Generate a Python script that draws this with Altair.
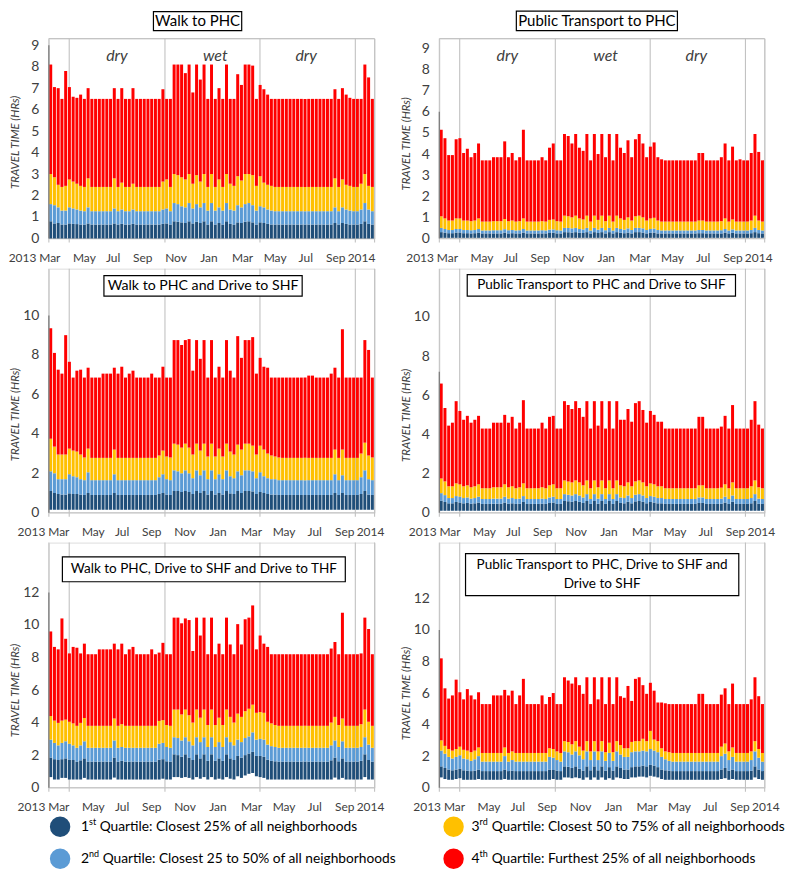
import altair as alt
import pandas as pd

FONT = "Lato"
N_BARS = 87
X_MAX = 87.1
QUARTILES = ["Q1", "Q2", "Q3", "Q4"]
QUARTILE_COLORS = ["#1f4e79", "#5b9bd5", "#ffc000", "#ff0000"]
Y_TITLE = "TRAVEL TIME (HRs)"

SEASON_BOUNDS = [0, 5.45, 31.05, 56.45, 81.95, X_MAX]
SEASON_NAMES = ["dry", "wet", "dry"]
SEASON_POS = [18.2, 44.5, 68.8]

MONTH_LABELS = ["2013", "Mar", "May", "Jul", "Sep", "Nov", "Jan", "Mar", "May", "Jul", "Sep", "2014"]
MONTH_POS = [-7.05, 0.27, 9.5, 17.2, 25.1, 34.0, 42.8, 51.8, 60.5, 68.7, 76.7, 83.6]

LEGEND_NUM = ["1", "2", "3", "4"]
LEGEND_SUP = ["st", "nd", "rd", "th"]
LEGEND_TEXT = ["Quartile: Closest 25% of all neighborhoods",
               "Quartile: Closest 25 to 50% of all neighborhoods",
               "Quartile: Closest 50 to 75% of all neighborhoods",
               "Quartile: Furthest 25% of all neighborhoods"]

# ---------- Panel 1: Walk to PHC ----------
p1_q4 = ([8.1, 7.05, 7.0, 6.5, 7.8, 7.05, 6.6, 6.55, 6.7, 6.5]
         + [7.0, 6.5, 6.5, 6.5, 6.5, 6.5, 6.5, 7.0, 6.5, 7.0]
         + [6.5, 6.5, 7.0, 6.5, 6.5, 6.5, 6.5, 6.5, 6.5, 6.5]
         + [6.95, 6.5, 6.5, 8.1, 8.1, 8.1, 7.7, 8.1, 6.8, 8.1]
         + [7.4, 8.1, 6.5, 8.1, 6.5, 7.0, 6.5, 8.1, 6.5, 6.5]
         + [7.65, 7.15, 8.1, 8.1, 8.05, 6.5, 7.15, 6.95, 6.7, 6.5]
         + [6.5] * 16
         + [6.95, 6.5, 7.0, 6.7, 6.55, 6.5, 6.5, 6.5, 8.1, 7.5, 6.5])
p1_q3 = ([3.0, 2.85, 2.5, 2.4, 2.45, 2.75, 2.65, 2.55, 2.45, 2.4]
         + [2.8, 2.4, 2.4, 2.4, 2.4, 2.4, 2.4, 2.8, 2.4, 2.6]
         + [2.4, 2.4, 2.55, 2.4, 2.4, 2.4, 2.4, 2.4, 2.4, 2.4]
         + [2.65, 2.75, 2.4, 3.0, 2.95, 2.85, 2.75, 3.0, 2.55, 2.95]
         + [2.65, 3.0, 2.4, 3.0, 2.4, 2.75, 2.4, 3.0, 2.55, 2.45]
         + [2.9, 2.7, 3.0, 3.0, 2.95, 2.45, 2.9, 2.6, 2.5, 2.45]
         + [2.4] * 16
         + [2.8, 2.4, 2.75, 2.5, 2.45, 2.4, 2.4, 2.55, 3.0, 2.45, 2.4])
p1_q2 = ([1.6, 1.55, 1.45, 1.3, 1.3, 1.45, 1.4, 1.35, 1.3, 1.27]
         + [1.45, 1.27, 1.27, 1.27, 1.27, 1.27, 1.27, 1.4, 1.27, 1.35]
         + [1.27, 1.27, 1.35, 1.27, 1.27, 1.27, 1.27, 1.27, 1.27, 1.27]
         + [1.35, 1.4, 1.27, 1.65, 1.6, 1.5, 1.45, 1.65, 1.4, 1.6]
         + [1.45, 1.65, 1.3, 1.65, 1.3, 1.45, 1.3, 1.65, 1.35, 1.3]
         + [1.55, 1.45, 1.6, 1.65, 1.55, 1.3, 1.5, 1.45, 1.35, 1.3]
         + [1.27] * 16
         + [1.45, 1.27, 1.45, 1.35, 1.3, 1.27, 1.27, 1.35, 1.65, 1.35, 1.27])
p1_q1 = ([0.8, 0.7, 0.72, 0.65, 0.65, 0.7, 0.68, 0.67, 0.65, 0.65]
         + [0.7, 0.65, 0.65, 0.65, 0.65, 0.65, 0.65, 0.7, 0.65, 0.68]
         + [0.65, 0.65, 0.68, 0.65, 0.65, 0.65, 0.65, 0.65, 0.65, 0.65]
         + [0.68, 0.7, 0.65, 0.8, 0.78, 0.75, 0.72, 0.8, 0.7, 0.78]
         + [0.72, 0.8, 0.65, 0.8, 0.65, 0.72, 0.65, 0.8, 0.68, 0.65]
         + [0.75, 0.72, 0.78, 0.8, 0.75, 0.65, 0.75, 0.72, 0.68, 0.65]
         + [0.65] * 16
         + [0.72, 0.65, 0.72, 0.68, 0.65, 0.65, 0.65, 0.68, 0.8, 0.68, 0.65])
p1_q0 = [0.0] * 87

# ---------- Panel 2: Public Transport to PHC ----------
p2_q4 = ([5.15, 4.75, 3.95, 3.95, 4.7, 4.75, 4.05, 4.25, 3.85, 4.05]
         + [4.5, 3.7, 3.7, 3.7, 3.85, 3.85, 3.85, 4.6, 3.85, 4.05]
         + [3.7, 3.85, 5.15, 3.7, 3.7, 3.7, 3.7, 3.85, 3.7, 4.3]
         + [4.5, 3.7, 3.7, 4.95, 4.85, 4.5, 4.95, 4.3, 4.15, 4.95]
         + [3.7, 4.95, 4.0, 4.95, 3.85, 4.95, 3.7, 4.95, 4.3, 4.05]
         + [4.65, 3.85, 4.7, 4.95, 4.5, 3.85, 4.35, 4.55, 3.85, 3.75]
         + [3.7] * 9 + [4.05, 4.05] + [3.7] * 4
         + [3.85, 4.5, 3.7, 4.35, 3.7, 3.75, 3.7, 3.7, 4.05, 4.95, 4.1, 3.7])
p2_q3 = ([1.05, 0.95, 0.85, 0.85, 0.95, 0.95, 0.85, 0.85, 0.82, 0.85]
         + [0.95, 0.8, 0.8, 0.8, 0.82, 0.82, 0.82, 0.92, 0.82, 0.85]
         + [0.8, 0.82, 0.95, 0.8, 0.8, 0.8, 0.8, 0.82, 0.8, 0.88]
         + [0.9, 0.82, 0.8, 1.08, 1.05, 1.0, 1.08, 0.95, 0.9, 1.08]
         + [0.8, 1.08, 0.88, 1.08, 0.82, 1.08, 0.8, 1.08, 0.95, 0.88]
         + [1.0, 0.85, 1.05, 1.08, 1.0, 0.85, 0.95, 0.98, 0.85, 0.8]
         + [0.8] * 9 + [0.85, 0.85] + [0.8] * 4
         + [0.82, 0.95, 0.8, 0.9, 0.8, 0.8, 0.8, 0.8, 0.85, 1.08, 0.85, 0.8])
p2_q2 = ([0.5, 0.45, 0.4, 0.4, 0.45, 0.45, 0.4, 0.4, 0.39, 0.4]
         + [0.45, 0.38, 0.38, 0.38, 0.39, 0.39, 0.39, 0.44, 0.39, 0.4]
         + [0.38, 0.39, 0.45, 0.38, 0.38, 0.38, 0.38, 0.39, 0.38, 0.42]
         + [0.43, 0.39, 0.38, 0.5, 0.5, 0.48, 0.5, 0.45, 0.43, 0.5]
         + [0.38, 0.5, 0.42, 0.5, 0.39, 0.5, 0.38, 0.5, 0.45, 0.42]
         + [0.48, 0.4, 0.5, 0.5, 0.48, 0.4, 0.45, 0.47, 0.4, 0.38]
         + [0.38] * 9 + [0.4, 0.4] + [0.38] * 4
         + [0.39, 0.45, 0.38, 0.43, 0.38, 0.38, 0.38, 0.38, 0.4, 0.5, 0.4, 0.38])
p2_q1 = ([0.3, 0.28, 0.25, 0.25, 0.28, 0.28, 0.25, 0.25, 0.24, 0.25]
         + [0.28, 0.24, 0.24, 0.24, 0.24, 0.24, 0.24, 0.28, 0.24, 0.25]
         + [0.24, 0.24, 0.28, 0.24, 0.24, 0.24, 0.24, 0.24, 0.24, 0.26]
         + [0.27, 0.24, 0.24, 0.3, 0.3, 0.28, 0.3, 0.27, 0.26, 0.3]
         + [0.24, 0.3, 0.26, 0.3, 0.24, 0.3, 0.24, 0.3, 0.27, 0.25]
         + [0.28, 0.24, 0.3, 0.3, 0.28, 0.24, 0.27, 0.28, 0.24, 0.24]
         + [0.24] * 9 + [0.25, 0.25] + [0.24] * 4
         + [0.24, 0.28, 0.24, 0.27, 0.24, 0.24, 0.24, 0.24, 0.25, 0.3, 0.25, 0.24])
p2_q0 = [0.03] * 87

# ---------- Panel 3: Walk to PHC and Drive to SHF ----------
p3_q4 = ([9.35, 8.1, 7.25, 7.05, 9.0, 7.65, 6.85, 7.2, 7.25, 6.85]
         + [7.35, 6.85, 6.85, 6.85, 7.05, 7.05, 7.05, 7.35, 7.05, 7.4]
         + [6.85, 7.05, 7.2, 6.85, 6.85, 6.85, 6.85, 7.05, 6.85, 6.85]
         + [7.4, 6.85, 6.85, 8.75, 8.75, 8.5, 8.75, 8.8, 7.2, 8.75]
         + [7.8, 8.75, 6.85, 8.75, 6.85, 7.4, 6.85, 8.75, 7.2, 6.85]
         + [8.95, 7.85, 8.75, 8.75, 8.9, 7.05, 7.85, 7.4, 7.35, 6.85]
         + [6.85] * 9 + [6.95, 6.95] + [6.85] * 4
         + [7.05, 7.35, 6.85, 9.3, 6.85, 6.85, 6.85, 6.85, 6.85, 8.75, 8.25, 6.85])
p3_q3 = ([3.75, 3.35, 2.95, 2.95, 2.95, 3.25, 3.15, 3.1, 2.95, 2.8]
         + [3.25, 2.78, 2.78, 2.78, 2.78, 2.78, 2.78, 3.2, 2.78, 2.78]
         + [2.78] * 9 + [2.9]
         + [3.15, 2.85, 2.8, 3.5, 3.45, 3.3, 3.5, 3.3, 2.95, 3.5]
         + [3.15, 3.5, 2.85, 3.5, 2.85, 3.25, 2.85, 3.5, 3.1, 2.95]
         + [3.45, 3.2, 3.5, 3.5, 3.4, 2.95, 3.4, 3.2, 3.0, 2.9]
         + [2.85, 2.8] + [2.78] * 13
         + [2.78, 3.2, 2.78, 3.2, 2.78, 2.78, 2.78, 2.78, 3.0, 3.55, 2.9, 2.8])
p3_q2 = ([2.1, 2.0, 1.7, 1.7, 1.7, 1.95, 1.85, 1.8, 1.7, 1.65]
         + [2.05, 1.65, 1.65, 1.65, 1.65, 1.65, 1.65, 1.95, 1.65, 1.65]
         + [1.65] * 9 + [1.8]
         + [1.95, 1.7, 1.65, 2.15, 2.1, 2.0, 2.15, 2.0, 1.75, 2.15]
         + [1.9, 2.15, 1.7, 2.15, 1.7, 1.95, 1.7, 2.15, 1.85, 1.75]
         + [2.1, 1.9, 2.15, 2.15, 2.1, 1.75, 2.05, 1.85, 1.75, 1.7]
         + [1.7] + [1.65] * 14
         + [1.65, 1.95, 1.65, 1.9, 1.65, 1.65, 1.65, 1.65, 1.8, 2.15, 1.7, 1.65])
p3_q1 = ([1.1, 1.0, 0.95, 0.92, 0.92, 0.98, 0.95, 0.95, 0.92, 0.9]
         + [1.0, 0.9, 0.9, 0.9, 0.9, 0.9, 0.9, 1.0, 0.9, 0.9]
         + [0.9] * 9 + [0.95]
         + [1.0, 0.92, 0.9, 1.1, 1.1, 1.05, 1.1, 1.05, 0.95, 1.1]
         + [1.0, 1.1, 0.92, 1.1, 0.92, 1.0, 0.92, 1.1, 0.98, 0.95]
         + [1.1, 1.0, 1.1, 1.1, 1.08, 0.95, 1.05, 1.0, 0.95, 0.92]
         + [0.92] + [0.9] * 14
         + [0.9, 1.0, 0.9, 1.0, 0.9, 0.9, 0.9, 0.9, 0.95, 1.1, 0.92, 0.9])
p3_q0 = [0.15] * 87

# ---------- Panel 4: Public Transport to PHC and Drive to SHF ----------
p4_q4 = ([6.6, 5.35, 4.45, 4.6, 5.7, 5.2, 4.75, 4.95, 4.6, 4.75]
         + [4.95, 4.3, 4.3, 4.3, 4.6, 4.6, 4.6, 5.0, 4.6, 4.9]
         + [4.3, 4.6, 5.75, 4.3, 4.3, 4.3, 4.3, 4.6, 4.3, 4.9]
         + [4.95, 4.3, 4.3, 5.7, 5.5, 5.3, 5.7, 5.35, 4.9, 5.7]
         + [4.3, 5.7, 4.45, 5.7, 4.3, 5.7, 4.3, 5.7, 4.75, 4.75]
         + [5.3, 4.65, 5.6, 5.7, 5.25, 4.6, 5.2, 5.0, 4.65, 4.65]
         + [4.3] * 9 + [4.9, 4.9] + [4.3] * 4
         + [4.4, 4.95, 4.3, 5.5, 4.3, 4.3, 4.3, 4.3, 4.75, 5.7, 4.5, 4.3])
p4_q3 = ([1.75, 1.6, 1.35, 1.35, 1.5, 1.45, 1.35, 1.4, 1.3, 1.35]
         + [1.45, 1.25, 1.25, 1.25, 1.3, 1.3, 1.3, 1.45, 1.3, 1.35]
         + [1.25, 1.3, 1.5, 1.25, 1.25, 1.25, 1.25, 1.3, 1.25, 1.4]
         + [1.45, 1.25, 1.25, 1.65, 1.6, 1.55, 1.65, 1.55, 1.4, 1.65]
         + [1.25, 1.65, 1.3, 1.65, 1.25, 1.65, 1.25, 1.65, 1.4, 1.35]
         + [1.55, 1.35, 1.6, 1.65, 1.55, 1.35, 1.5, 1.45, 1.35, 1.35]
         + [1.25] * 9 + [1.4, 1.4] + [1.25] * 4
         + [1.28, 1.45, 1.25, 1.55, 1.25, 1.25, 1.25, 1.25, 1.35, 1.65, 1.3, 1.25])
p4_q2 = ([1.0, 0.9, 0.75, 0.75, 0.85, 0.82, 0.75, 0.78, 0.72, 0.75]
         + [0.82, 0.7, 0.7, 0.7, 0.72, 0.72, 0.72, 0.82, 0.72, 0.75]
         + [0.7, 0.72, 0.85, 0.7, 0.7, 0.7, 0.7, 0.72, 0.7, 0.78]
         + [0.82, 0.7, 0.7, 0.95, 0.92, 0.88, 0.95, 0.88, 0.78, 0.95]
         + [0.7, 0.95, 0.72, 0.95, 0.7, 0.95, 0.7, 0.95, 0.78, 0.75]
         + [0.88, 0.75, 0.92, 0.95, 0.88, 0.75, 0.85, 0.82, 0.75, 0.75]
         + [0.7] * 9 + [0.78, 0.78] + [0.7] * 4
         + [0.72, 0.82, 0.7, 0.88, 0.7, 0.7, 0.7, 0.7, 0.75, 0.95, 0.72, 0.7])
p4_q1 = ([0.62, 0.55, 0.48, 0.48, 0.55, 0.52, 0.48, 0.5, 0.46, 0.48]
         + [0.52, 0.45, 0.45, 0.45, 0.46, 0.46, 0.46, 0.52, 0.46, 0.48]
         + [0.45, 0.46, 0.55, 0.45, 0.45, 0.45, 0.45, 0.46, 0.45, 0.5]
         + [0.52, 0.45, 0.45, 0.6, 0.58, 0.56, 0.6, 0.56, 0.5, 0.6]
         + [0.45, 0.6, 0.46, 0.6, 0.45, 0.6, 0.45, 0.6, 0.5, 0.48]
         + [0.56, 0.48, 0.58, 0.6, 0.56, 0.48, 0.55, 0.52, 0.48, 0.48]
         + [0.45] * 9 + [0.5, 0.5] + [0.45] * 4
         + [0.46, 0.52, 0.45, 0.56, 0.45, 0.45, 0.45, 0.45, 0.48, 0.6, 0.46, 0.45])
p4_q0 = [0.1] * 87

# ---------- Panel 5: Walk to PHC, Drive to SHF and Drive to THF ----------
p5_q4 = ([9.6, 8.65, 8.5, 10.4, 9.15, 8.25, 8.65, 8.6, 8.25, 8.85]
         + [8.2, 8.2, 8.2, 8.5, 8.5, 8.5, 8.5, 8.85, 8.5, 8.85]
         + [8.2, 8.5, 8.65, 8.2, 8.2, 8.2, 8.2, 8.5, 8.2, 8.3]
         + [8.9, 8.2, 8.2, 10.45, 10.45, 10.1, 10.4, 10.3, 8.4, 10.45]
         + [9.35, 10.45, 8.2, 10.45, 8.2, 8.85, 8.2, 10.45, 8.8, 8.2]
         + [10.05, 8.8, 10.35, 10.45, 11.2, 8.5, 9.35, 8.85, 8.65, 8.2]
         + [8.2] * 15
         + [8.55, 8.95, 8.2, 10.75, 8.2, 8.2, 8.2, 8.2, 8.25, 10.45, 9.75, 8.2])
p5_q3 = ([4.4, 4.12, 3.98, 4.12, 4.18, 4.05, 3.95, 3.8, 3.98, 4.28]
         + [3.8, 3.8, 3.8, 3.8, 3.8, 3.8, 3.8, 4.25, 3.8, 3.9]
         + [3.8] * 9 + [4.1]
         + [4.15, 3.85, 3.8, 4.8, 4.8, 4.5, 4.8, 4.45, 4.0, 4.8]
         + [4.3, 4.8, 3.85, 4.8, 3.85, 4.3, 3.85, 4.8, 4.35, 4.0]
         + [4.55, 4.35, 4.7, 4.85, 5.1, 4.6, 4.65, 4.6, 4.05, 3.95]
         + [3.85] + [3.8] * 14
         + [4.0, 4.35, 3.85, 4.25, 3.8, 3.8, 3.8, 3.8, 3.9, 4.8, 4.05, 3.8])
p5_q2 = ([2.95, 2.75, 2.6, 2.75, 2.85, 2.7, 2.6, 2.45, 2.6, 2.85]
         + [2.45] * 7 + [2.9, 2.45, 2.5]
         + [2.45] * 9 + [2.7]
         + [2.75, 2.5, 2.45, 3.1, 3.05, 2.9, 3.1, 2.85, 2.6, 3.1]
         + [2.8, 3.1, 2.5, 3.1, 2.5, 2.8, 2.5, 3.1, 2.8, 2.6]
         + [2.95, 2.8, 3.05, 3.15, 3.4, 2.95, 3.0, 2.95, 2.65, 2.55]
         + [2.5] + [2.45] * 14
         + [2.6, 2.9, 2.5, 2.85, 2.45, 2.45, 2.45, 2.45, 2.5, 3.1, 2.65, 2.45])
p5_q1 = ([1.85, 1.75, 1.7, 1.75, 1.8, 1.72, 1.7, 1.6, 1.68, 1.8]
         + [1.6] * 7 + [1.85, 1.6, 1.65]
         + [1.6] * 9 + [1.72]
         + [1.75, 1.62, 1.6, 2.05, 2.0, 1.9, 2.05, 1.85, 1.7, 2.05]
         + [1.8, 2.05, 1.65, 2.05, 1.65, 1.8, 1.65, 2.05, 1.8, 1.7]
         + [1.95, 1.85, 2.0, 2.1, 2.2, 1.95, 1.95, 1.9, 1.72, 1.65]
         + [1.62] + [1.6] * 14
         + [1.68, 1.85, 1.62, 1.8, 1.6, 1.6, 1.6, 1.6, 1.65, 2.05, 1.7, 1.6])
p5_q0 = ([0.65, 0.5, 0.5, 0.6, 0.6, 0.5, 0.5, 0.5, 0.5, 0.6]
         + [0.5] * 7 + [0.62, 0.5, 0.5]
         + [0.5] * 10
         + [0.55, 0.5, 0.5, 0.65, 0.65, 0.6, 0.65, 0.6, 0.5, 0.65]
         + [0.55, 0.65, 0.5, 0.65, 0.5, 0.55, 0.5, 0.65, 0.55, 0.5]
         + [0.7, 0.6, 0.75, 0.85, 0.9, 0.7, 0.65, 0.6, 0.5, 0.5]
         + [0.5] * 15
         + [0.5, 0.62, 0.5, 0.6, 0.5, 0.5, 0.5, 0.5, 0.5, 0.65, 0.5, 0.5])

# ---------- Panel 6: Public Transport to PHC, Drive to SHF and Drive to SHF ----------
p6_q4 = ([8.2, 6.3, 5.65, 5.85, 6.85, 6.05, 5.6, 6.25, 5.85, 5.6]
         + [6.05, 5.3, 5.3, 5.3, 5.85, 5.85, 5.85, 6.2, 5.85, 6.15]
         + [5.3, 5.85, 6.9, 5.3, 5.3, 5.3, 5.3, 5.85, 5.3, 5.75]
         + [6.0, 5.3, 5.3, 7.0, 6.8, 6.6, 7.0, 6.5, 5.95, 7.0]
         + [5.3, 7.0, 5.6, 7.0, 5.3, 7.0, 5.3, 7.0, 5.8, 5.7]
         + [6.45, 5.5, 6.9, 7.0, 6.5, 5.95, 6.65, 6.15, 5.4, 5.4]
         + [5.35] + [5.3] * 8 + [5.95, 5.95] + [5.3] * 4
         + [5.9, 6.3, 5.3, 6.6, 5.3, 5.3, 5.3, 5.3, 5.6, 7.0, 5.8, 5.3])
p6_q3 = ([3.0, 2.65, 2.45, 2.35, 2.45, 2.6, 2.4, 2.35, 2.25, 2.35]
         + [2.55, 2.2, 2.2, 2.2, 2.2, 2.2, 2.2, 2.55, 2.2, 2.3]
         + [2.2] * 9 + [2.5]
         + [2.45, 2.3, 2.2, 2.95, 2.9, 2.75, 2.95, 2.6, 2.35, 2.95]
         + [2.3, 2.95, 2.3, 2.95, 2.25, 2.85, 2.25, 2.95, 2.7, 2.5]
         + [2.5, 2.9, 2.95, 2.95, 3.1, 2.95, 3.6, 3.05, 2.95, 2.5]
         + [2.3, 2.25] + [2.2] * 13
         + [2.6, 2.8, 2.3, 2.55, 2.2, 2.2, 2.2, 2.2, 2.3, 2.95, 2.45, 2.2])
p6_q2 = ([2.35, 2.15, 1.95, 1.85, 1.95, 2.05, 1.85, 1.8, 1.7, 1.8]
         + [2.0, 1.65, 1.65, 1.65, 1.65, 1.65, 1.65, 2.0, 1.65, 1.75]
         + [1.65] * 9 + [1.95]
         + [1.9, 1.75, 1.65, 2.3, 2.25, 2.1, 2.3, 2.05, 1.8, 2.3]
         + [1.75, 2.3, 1.75, 2.3, 1.7, 2.2, 1.7, 2.3, 2.1, 1.95]
         + [1.95, 2.25, 2.3, 2.3, 2.35, 2.3, 2.45, 2.35, 2.25, 1.95]
         + [1.8, 1.7] + [1.65] * 13
         + [2.0, 2.15, 1.75, 1.95, 1.65, 1.65, 1.65, 1.65, 1.75, 2.3, 1.9, 1.65])
p6_q1 = ([1.35, 1.25, 1.15, 1.1, 1.15, 1.2, 1.1, 1.08, 1.05, 1.08]
         + [1.15, 1.05, 1.05, 1.05, 1.05, 1.05, 1.05, 1.15, 1.05, 1.08]
         + [1.05] * 9 + [1.15]
         + [1.12, 1.08, 1.05, 1.35, 1.32, 1.25, 1.35, 1.2, 1.08, 1.35]
         + [1.1, 1.35, 1.1, 1.35, 1.08, 1.3, 1.08, 1.35, 1.25, 1.15]
         + [1.15, 1.3, 1.35, 1.35, 1.4, 1.35, 1.45, 1.4, 1.3, 1.15]
         + [1.1, 1.08] + [1.05] * 13
         + [1.15, 1.25, 1.08, 1.15, 1.05, 1.05, 1.05, 1.05, 1.08, 1.35, 1.15, 1.05])
p6_q0 = ([0.65, 0.55, 0.5, 0.5, 0.55, 0.6, 0.5, 0.5, 0.5, 0.5]
         + [0.55, 0.5, 0.5, 0.5, 0.5, 0.5, 0.5, 0.55, 0.5, 0.5]
         + [0.5] * 10
         + [0.55, 0.5, 0.5, 0.65, 0.65, 0.6, 0.65, 0.6, 0.5, 0.65]
         + [0.5, 0.65, 0.5, 0.65, 0.5, 0.6, 0.5, 0.65, 0.6, 0.55]
         + [0.55, 0.65, 0.65, 0.7, 0.7, 0.65, 0.75, 0.7, 0.65, 0.55]
         + [0.5] * 15
         + [0.55, 0.6, 0.5, 0.55, 0.5, 0.5, 0.5, 0.5, 0.5, 0.65, 0.55, 0.5])

for _nm, _arr in list(globals().items()):
    if _nm.startswith("p") and _nm[1].isdigit() and "_q" in _nm:
        assert len(_arr) == N_BARS, (_nm, len(_arr))


def build_panel(levels, title_lines, title_size, ymax, H, W, ticks, rule_top, shift, box,
                top_line, seasons, legend=False):
    xs = alt.Scale(domain=[0, X_MAX], nice=False, zero=False)
    ys = alt.Scale(domain=[0, ymax], nice=False, zero=False)
    yaxis = alt.Axis(values=ticks, title=Y_TITLE, format="d", ticks=False, domain=False,
                     grid=False, labelFont=FONT, labelFontSize=14, labelColor="#404040",
                     labelPadding=10, titleFont=FONT, titleFontSize=11.5,
                     titleFontStyle="italic", titleFontWeight="normal", titleColor="#404040",
                     titleAngle=270, titleAlign="center", titleBaseline="middle",
                     titleX=-33, titleY=H - (ticks[-1] / 2.0) * H / ymax)
    rows = []
    for i in range(N_BARS):
        for k, q in enumerate(QUARTILES):
            rows.append({"xa": i + 0.1, "xb": i + 0.9,
                         "ya": levels[k][i], "yb": levels[k + 1][i], "q": q})
    bars_df = pd.DataFrame(rows)
    one = pd.DataFrame({"o": [0]})
    grey = "#c2c2c2"
    layers = [
        alt.Chart(pd.DataFrame({"b": SEASON_BOUNDS})).mark_rule(color=grey, strokeWidth=1.1).encode(
            x=alt.X("b:Q", scale=xs, axis=None), y=alt.value(0), y2=alt.value(H + 4)),
        alt.Chart(one).mark_rule(color=grey, strokeWidth=1).encode(
            x=alt.value(0), x2=alt.value(W), y=alt.value(H)),
    ]
    if top_line:
        layers.append(alt.Chart(one).mark_rule(color=grey, strokeWidth=1).encode(
            x=alt.value(0), x2=alt.value(W), y=alt.value(0)))
    layers.append(alt.Chart(bars_df).mark_rect(strokeWidth=0).encode(
        x=alt.X("xa:Q", scale=xs, axis=None), x2="xb",
        y=alt.Y("ya:Q", scale=ys, axis=yaxis), y2="yb",
        color=alt.Color("q:N", scale=alt.Scale(domain=QUARTILES, range=QUARTILE_COLORS),
                        legend=None)))
    layers.append(alt.Chart(pd.DataFrame({"xa": [0.0], "ya": [0.0], "yb": [rule_top]}))
                  .mark_rule(color="#7f7f7f", strokeWidth=1.3).encode(
        x=alt.X("xa:Q", scale=xs, axis=None), y=alt.Y("ya:Q", scale=ys, axis=yaxis), y2="yb"))
    if seasons:
        layers.append(alt.Chart(pd.DataFrame({"p": SEASON_POS, "s": SEASON_NAMES}))
                      .mark_text(font=FONT, fontSize=16, fontStyle="italic", color="#404040")
                      .encode(x=alt.X("p:Q", scale=xs, axis=None), y=alt.value(17.5), text="s:N"))
    layers.append(alt.Chart(pd.DataFrame({"p": [m + shift for m in MONTH_POS], "m": MONTH_LABELS}))
                  .mark_text(font=FONT, fontSize=12, color="#404040")
                  .encode(x=alt.X("p:Q", scale=xs, axis=None), y=alt.value(H + 19.5), text="m:N"))
    bx0, bx1, by0, by1 = box
    layers.append(alt.Chart(one).mark_rect(fill="white", stroke="black", strokeWidth=1.2).encode(
        x=alt.value(bx0), x2=alt.value(bx1), y=alt.value(by0), y2=alt.value(by1)))
    line_h = 19
    y_first = (by0 + by1) / 2.0 - (len(title_lines) - 1) * line_h / 2.0
    for j, line in enumerate(title_lines):
        layers.append(alt.Chart(one).mark_text(text=line, font=FONT, fontSize=title_size,
                                               color="black", baseline="middle",
                                               align="center").encode(
            x=alt.value((bx0 + bx1) / 2.0), y=alt.value(y_first + j * line_h)))
    if legend:
        sup_w = {"st": 7.0, "nd": 10.0, "rd": 8.5, "th": 8.5}
        for k in range(4):
            col, row = k // 2, k % 2
            cy = 285.3 + row * 32
            cx = 11.3 + col * 395
            tx = 32.3 + col * 392
            layers.append(alt.Chart(one).mark_point(shape="circle", filled=True, size=420,
                                                    opacity=1, color=QUARTILE_COLORS[k]).encode(
                x=alt.value(cx), y=alt.value(cy)))
            layers.append(alt.Chart(one).mark_text(text=LEGEND_NUM[k], font=FONT, fontSize=14,
                                                   align="left", baseline="middle", color="black").encode(
                x=alt.value(tx), y=alt.value(cy)))
            layers.append(alt.Chart(one).mark_text(text=LEGEND_SUP[k], font=FONT, fontSize=9,
                                                   align="left", baseline="middle", color="black").encode(
                x=alt.value(tx + 8.1), y=alt.value(cy - 5)))
            layers.append(alt.Chart(one).mark_text(text=LEGEND_TEXT[k], font=FONT, fontSize=13.8,
                                                   align="left", baseline="middle", color="black").encode(
                x=alt.value(tx + 8.1 + sup_w[LEGEND_SUP[k]] + 3.6), y=alt.value(cy)))
    return alt.layer(*layers).properties(width=W, height=H)


W_L, W_R = 327, 326.6
H1, H2, H3 = 200.7, 245, 246

c1 = build_panel([p1_q0, p1_q1, p1_q2, p1_q3, p1_q4], ["Walk to PHC"], 15, 9.31, H1, W_L,
                 list(range(0, 10)), 9, 0.0, (105, 193.6, -27, -8), True, True)
c2 = build_panel([p2_q0, p2_q1, p2_q2, p2_q3, p2_q4], ["Public Transport to PHC"], 15, 9.47, H1, W_R,
                 list(range(0, 10)), 6, 1.9, (77.3, 239, -27.5, -8), True, True)
c3 = build_panel([p3_q0, p3_q1, p3_q2, p3_q3, p3_q4], ["Walk to PHC and Drive to SHF"], 14.2, 12.37,
                 H2, W_L, [0, 2, 4, 6, 8, 10], 10, 2.4, (55.3, 254.3, 7, 27.6), False, False)
c4 = build_panel([p4_q0, p4_q1, p4_q2, p4_q3, p4_q4], ["Public Transport to PHC and Drive to SHF"], 13.6,
                 12.47, H2, W_R, [0, 2, 4, 6, 8, 10], 7.2, 2.6, (28, 297.3, 6, 27.6), False, False)
c5 = build_panel([p5_q0, p5_q1, p5_q2, p5_q3, p5_q4], ["Walk to PHC, Drive to SHF and Drive to THF"],
                 13.6, 15.06, H3, W_L, [0, 2, 4, 6, 8, 10, 12], 12, 2.4, (13.6, 297.6, 14.3, 39.3),
                 False, False, legend=True)
c6 = build_panel([p6_q0, p6_q1, p6_q2, p6_q3, p6_q4],
                 ["Public Transport to PHC, Drive to SHF and", "Drive to SHF"], 13.6, 15.54, H3, W_R,
                 [0, 2, 4, 6, 8, 10, 12], 10, 3.8, (26.3, 300.6, 11, 53.3), False, False)

chart = (alt.concat(c1, c2, c3, c4, c5, c6, columns=2, bounds="flush",
                    spacing={"row": 30, "column": 65})
         .resolve_scale(x="independent", y="independent")
         .properties(padding={"left": 0, "top": 0, "right": 0, "bottom": 0})
         .configure_view(stroke="transparent")
         .configure(font=FONT))

chart.save("out.html", embed_options={"renderer": "svg", "actions": False})
